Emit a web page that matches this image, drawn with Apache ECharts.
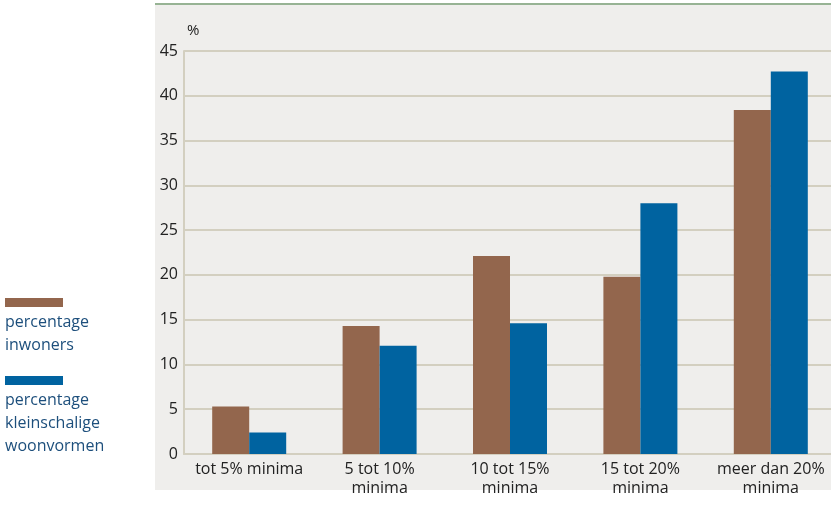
<!DOCTYPE html>
<html><head><meta charset="utf-8">
<script src="https://cdn.jsdelivr.net/npm/echarts@6/dist/echarts.min.js"></script>
<style>html,body{margin:0;padding:0;background:#fff}#c{width:831px;height:519px}</style>
</head><body><div id="c"></div>
<script>
const categories = ['tot 5% minima', '5 tot 10%\nminima', '10 tot 15%\nminima', '15 tot 20%\nminima', 'meer dan 20%\nminima'];
const inwoners = [5.3, 14.3, 22.1, 19.8, 38.4];
const kleinschalig = [2.4, 12.1, 14.6, 28.0, 42.7];
const seriesNames = ['percentage\ninwoners', 'percentage\nkleinschalige\nwoonvormen'];
const colors = ['#93664d', '#0063a0'];
const font = '"Open Sans", "Noto Sans", sans-serif';

const chart = echarts.init(document.getElementById('c'));
chart.setOption({
  animation: false,
  backgroundColor: '#ffffff',
  graphic: [
    {type: 'rect', shape: {x: 155, y: 4, width: 676, height: 486}, style: {fill: '#efeeec'}, z: -10, silent: true},
    {type: 'rect', shape: {x: 155, y: 3, width: 676, height: 2}, style: {fill: '#97b394'}, z: -9, silent: true},
    {type: 'text', x: 187, y: 23, style: {text: '%', font: '15px ' + font, fill: '#222'}},
    {type: 'rect', shape: {x: 5, y: 298, width: 58, height: 9}, style: {fill: colors[0]}},
    {type: 'text', x: 5, y: 311, style: {text: seriesNames[0], font: '16px ' + font, fill: '#1d4f7c', lineHeight: 23}},
    {type: 'rect', shape: {x: 5, y: 376, width: 58, height: 9}, style: {fill: colors[1]}},
    {type: 'text', x: 5, y: 389, style: {text: seriesNames[1], font: '16px ' + font, fill: '#1d4f7c', lineHeight: 23}}
  ],
  grid: {left: 184, width: 652, top: 51, bottom: 65, containLabel: false, outerBoundsMode: 'none'},
  xAxis: {
    type: 'category', data: categories,
    axisLine: {show: true, lineStyle: {color: '#d3cfc0', width: 2}},
    axisTick: {show: false},
    axisLabel: {color: '#222', fontFamily: font, fontSize: 16, lineHeight: 19, margin: 6, interval: 0}
  },
  yAxis: {
    type: 'value', min: 0, max: 45, interval: 5,
    axisLine: {show: true, lineStyle: {color: '#d3cfc0', width: 2}},
    axisTick: {show: false},
    splitLine: {lineStyle: {color: '#d3cfc0', width: 2}},
    axisLabel: {color: '#222', fontFamily: font, fontSize: 16, margin: 6}
  },
  series: [
    {name: seriesNames[0], type: 'bar', data: inwoners, barWidth: 37, barGap: '0%', itemStyle: {color: colors[0]}},
    {name: seriesNames[1], type: 'bar', data: kleinschalig, barWidth: 37, barGap: '0%', itemStyle: {color: colors[1]}}
  ]
});
</script></body></html>
